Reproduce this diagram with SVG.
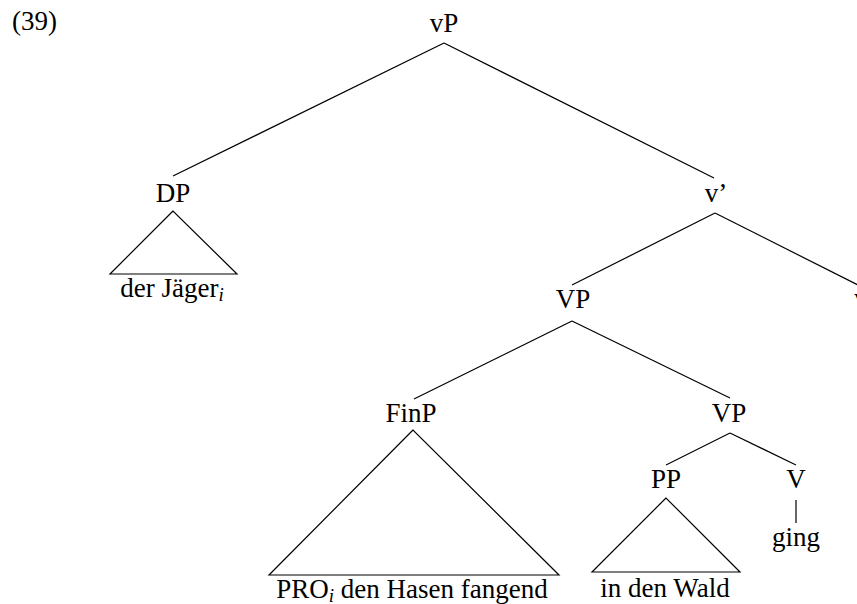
<svg xmlns="http://www.w3.org/2000/svg" width="857" height="604" viewBox="0 0 857 604">
<style>
text{font-family:"Liberation Serif","Times New Roman",serif;font-size:27px;fill:#000;text-anchor:middle}
.sub{font-style:italic;font-size:19px}
line,polygon{stroke:#000;stroke-width:1.2;fill:none}
</style>
<rect width="857" height="604" fill="#fff"/>
<text x="12" y="30" style="text-anchor:start">(39)</text>
<g id="connectors">
<line x1="444" y1="43" x2="173" y2="176"/>
<line x1="444" y1="43" x2="714" y2="178"/>
<line x1="715" y1="213" x2="572" y2="285"/>
<line x1="715" y1="213" x2="858" y2="285"/>
<line x1="572" y1="321" x2="414" y2="399"/>
<line x1="572" y1="321" x2="730" y2="398"/>
<line x1="730" y1="433" x2="666" y2="465"/>
<line x1="730" y1="433" x2="796" y2="465"/>
<line x1="796" y1="500" x2="796" y2="523"/>
</g>
<g id="vP"><text x="444" y="32">vP</text></g>
<g id="DP"><text x="173" y="202">DP</text>
<polygon points="173,211 110,274 237,274"/>
<text x="172" y="297">der Jäger<tspan class="sub" dy="4">i</tspan></text></g>
<g id="vbar"><text x="716" y="202">v’</text></g>
<g id="VP1"><text x="573" y="308">VP</text></g>
<g id="v"><text x="861" y="307">v</text></g>
<g id="FinP"><text x="411" y="422">FinP</text>
<polygon points="413,430 269,575 559,575"/>
<text x="412" y="598">PRO<tspan class="sub" dy="4">i</tspan><tspan dy="-4"> den Hasen fangend</tspan></text></g>
<g id="VP2"><text x="729" y="422">VP</text></g>
<g id="PP"><text x="666" y="488">PP</text>
<polygon points="666,498 592,572 740,572"/>
<text x="665" y="597">in den Wald</text></g>
<g id="V"><text x="796" y="488">V</text></g>
<g id="ging"><text x="796" y="546">ging</text></g>
</svg>
